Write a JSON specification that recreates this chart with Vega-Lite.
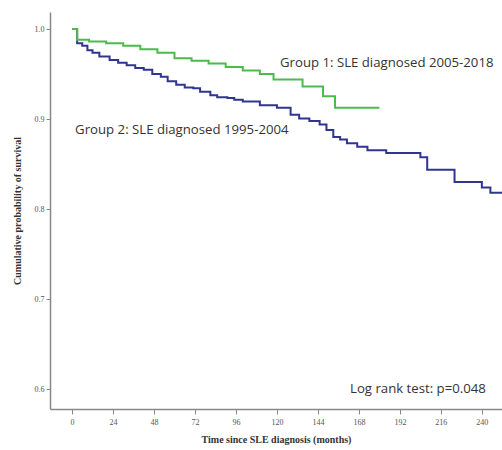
{
  "$schema": "https://vega.github.io/schema/vega-lite/v6.json",
  "autosize": {"type": "none"},
  "padding": {"left": 50, "top": 12, "right": 0, "bottom": 41},
  "width": 452,
  "height": 397,
  "background": "white",
  "config": {"view": {"stroke": null}},
  "datasets": {
    "curves": [
      {"group": "Group 2", "t": 0, "s": 1.0},
      {"group": "Group 2", "t": 3, "s": 0.9843},
      {"group": "Group 2", "t": 6, "s": 0.9813},
      {"group": "Group 2", "t": 9, "s": 0.9764},
      {"group": "Group 2", "t": 12, "s": 0.9735},
      {"group": "Group 2", "t": 16, "s": 0.9695},
      {"group": "Group 2", "t": 22, "s": 0.9656},
      {"group": "Group 2", "t": 27, "s": 0.9626},
      {"group": "Group 2", "t": 32, "s": 0.9597},
      {"group": "Group 2", "t": 37, "s": 0.9567},
      {"group": "Group 2", "t": 42, "s": 0.9548},
      {"group": "Group 2", "t": 47, "s": 0.9499},
      {"group": "Group 2", "t": 52, "s": 0.9469},
      {"group": "Group 2", "t": 56, "s": 0.942},
      {"group": "Group 2", "t": 61, "s": 0.9381},
      {"group": "Group 2", "t": 66, "s": 0.9351},
      {"group": "Group 2", "t": 71, "s": 0.9341},
      {"group": "Group 2", "t": 75, "s": 0.9302},
      {"group": "Group 2", "t": 81, "s": 0.9263},
      {"group": "Group 2", "t": 85, "s": 0.9243},
      {"group": "Group 2", "t": 91, "s": 0.9233},
      {"group": "Group 2", "t": 95, "s": 0.9213},
      {"group": "Group 2", "t": 100, "s": 0.9194},
      {"group": "Group 2", "t": 110, "s": 0.9154},
      {"group": "Group 2", "t": 120, "s": 0.9125},
      {"group": "Group 2", "t": 128, "s": 0.9046},
      {"group": "Group 2", "t": 133, "s": 0.9007},
      {"group": "Group 2", "t": 139, "s": 0.8977},
      {"group": "Group 2", "t": 145, "s": 0.8938},
      {"group": "Group 2", "t": 149, "s": 0.8879},
      {"group": "Group 2", "t": 153, "s": 0.88},
      {"group": "Group 2", "t": 157, "s": 0.8771},
      {"group": "Group 2", "t": 161, "s": 0.8732},
      {"group": "Group 2", "t": 167, "s": 0.8692},
      {"group": "Group 2", "t": 173, "s": 0.8653},
      {"group": "Group 2", "t": 184, "s": 0.8623},
      {"group": "Group 2", "t": 204, "s": 0.8574},
      {"group": "Group 2", "t": 208, "s": 0.8437},
      {"group": "Group 2", "t": 224, "s": 0.8299},
      {"group": "Group 2", "t": 240, "s": 0.824},
      {"group": "Group 2", "t": 245, "s": 0.8181},
      {"group": "Group 2", "t": 252, "s": 0.8181},
      {"group": "Group 1", "t": 0, "s": 1.0},
      {"group": "Group 1", "t": 3, "s": 0.9882},
      {"group": "Group 1", "t": 10, "s": 0.9862},
      {"group": "Group 1", "t": 20, "s": 0.9843},
      {"group": "Group 1", "t": 30, "s": 0.9813},
      {"group": "Group 1", "t": 40, "s": 0.9774},
      {"group": "Group 1", "t": 50, "s": 0.9735},
      {"group": "Group 1", "t": 60, "s": 0.9676},
      {"group": "Group 1", "t": 70, "s": 0.9646},
      {"group": "Group 1", "t": 80, "s": 0.9617},
      {"group": "Group 1", "t": 90, "s": 0.9577},
      {"group": "Group 1", "t": 100, "s": 0.9538},
      {"group": "Group 1", "t": 110, "s": 0.9499},
      {"group": "Group 1", "t": 118, "s": 0.944},
      {"group": "Group 1", "t": 135, "s": 0.9361},
      {"group": "Group 1", "t": 147, "s": 0.9253},
      {"group": "Group 1", "t": 154, "s": 0.9125},
      {"group": "Group 1", "t": 180, "s": 0.9125}
    ],
    "labels": [
      {"t": 121.8, "s": 0.962, "text": "Group 1: SLE diagnosed 2005-2018"},
      {"t": 1.8, "s": 0.8878, "text": "Group 2: SLE diagnosed 1995-2004"},
      {"t": 162.8, "s": 0.6, "text": "Log rank test: p=0.048"}
    ]
  },
  "layer": [
    {
      "data": {"name": "curves"},
      "mark": {"type": "line", "interpolate": "step-after", "strokeWidth": 2, "clip": true},
      "encoding": {
        "x": {
          "field": "t", "type": "quantitative",
          "scale": {"domain": [-12.9, 251.8], "nice": false, "zero": false},
          "axis": {
            "values": [0, 24, 48, 72, 96, 120, 144, 168, 192, 216, 240],
            "title": "Time since SLE diagnosis (months)",
            "titleFont": "Liberation Serif", "titleFontSize": 10, "titleFontWeight": "bold", "titleColor": "#333333",
            "titlePadding": 8,
            "labelFont": "Liberation Serif", "labelFontSize": 8, "labelColor": "#555555",
            "domainColor": "#888888", "domainWidth": 1.5, "tickColor": "#888888", "tickSize": 5,
            "grid": false, "labelPadding": 4
          }
        },
        "y": {
          "field": "s", "type": "quantitative",
          "scale": {"domain": [0.5778, 1.0189], "nice": false, "zero": false},
          "axis": {
            "values": [0.6, 0.7, 0.8, 0.9, 1.0],
            "format": ".1f",
            "title": "Cumulative probability of survival",
            "titleFont": "Liberation Serif", "titleFontSize": 10, "titleFontWeight": "bold", "titleColor": "#333333",
            "titlePadding": 12,
            "labelFont": "Liberation Serif", "labelFontSize": 8, "labelColor": "#555555",
            "domainColor": "#888888", "domainWidth": 1.5, "tickColor": "#888888", "tickSize": 4,
            "grid": false, "labelPadding": 2
          }
        },
        "color": {
          "field": "group", "type": "nominal",
          "scale": {"domain": ["Group 1", "Group 2"], "range": ["#4cbb4c", "#30358f"]},
          "legend": null
        }
      }
    },
    {
      "data": {"name": "labels"},
      "mark": {"type": "text", "align": "left", "baseline": "middle", "font": "Open Sans", "fontSize": 13.2, "color": "#333333"},
      "encoding": {
        "x": {"field": "t", "type": "quantitative"},
        "y": {"field": "s", "type": "quantitative"},
        "text": {"field": "text"}
      }
    }
  ]
}
